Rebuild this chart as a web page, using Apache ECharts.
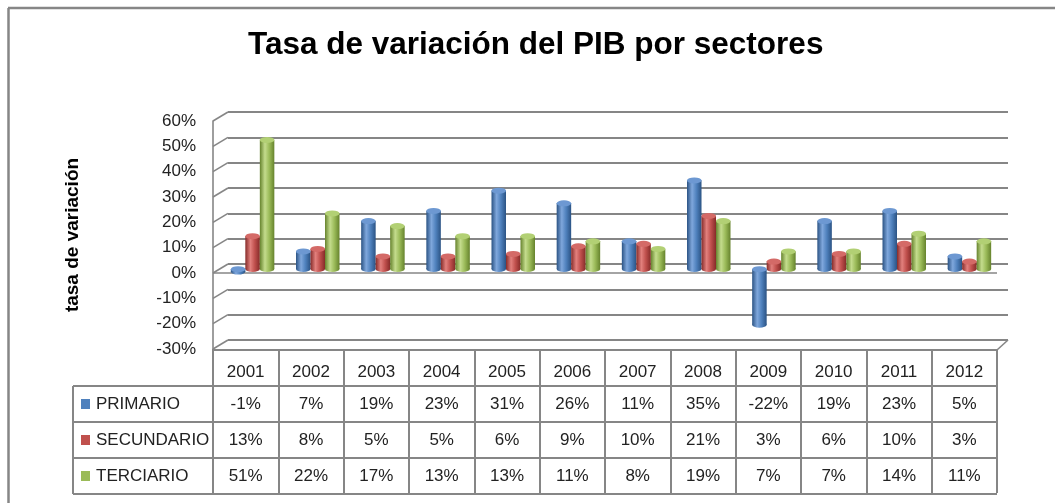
<!DOCTYPE html>
<html>
<head>
<meta charset="utf-8">
<script src="https://cdn.jsdelivr.net/npm/echarts@6/dist/echarts.min.js"></script>
<style>
  html, body { margin: 0; padding: 0; background: #fff; }
  #chart { width: 1055px; height: 503px; }
</style>
</head>
<body>
<div id="chart"></div>
<script>
// datos
const years = ['2001', '2002', '2003', '2004', '2005', '2006', '2007', '2008', '2009', '2010', '2011', '2012'];
const primario = [-1, 7, 19, 23, 31, 26, 11, 35, -22, 19, 23, 5];
const secundario = [13, 8, 5, 5, 6, 9, 10, 21, 3, 6, 10, 3];
const terciario = [51, 22, 17, 13, 13, 11, 8, 19, 7, 7, 14, 11];
const yMin = -30, yMax = 60, yStep = 10;

const sectores = [
  { name: 'PRIMARIO', data: primario, base: '#4f81bd', dark: '#2b5384', light: '#7fa7dc', top: '#6d98d2' },
  { name: 'SECUNDARIO', data: secundario, base: '#c0504d', dark: '#862b29', light: '#e2807d', top: '#d46a67' },
  { name: 'TERCIARIO', data: terciario, base: '#9bbb59', dark: '#66832d', light: '#c4dc8d', top: '#b2d074' }
];

// caja 3D: pared del fondo y plano frontal
const back = { x: 228, y: 112, w: 780, h: 228 };
const front = { x: 213, y: 121, w: 784, h: 228 };
const mid = { x: 220, y: 117, w: 782, h: 228 };
const rowH = 36;
const tableTop = front.y + front.h + 1;
const legendX = 73;
const gray = '#868686';
const font = 'Liberation Sans, Arial, sans-serif';
const barW = 14.5;

let chart = echarts.init(document.getElementById('chart'));

function cylinder(s) {
  return new echarts.graphic.LinearGradient(0, 0, 1, 0, [
    { offset: 0, color: s.dark },
    { offset: 0.35, color: s.light },
    { offset: 0.65, color: s.base },
    { offset: 1, color: s.dark }
  ]);
}

let series = [];
sectores.forEach(function (s) {
  series.push({
    name: s.name, type: 'bar', xAxisIndex: 2, yAxisIndex: 2,
    data: s.data, barWidth: barW, barGap: '0%',
    itemStyle: { color: cylinder(s) }, z: 3
  });
});
// base redondeada de cada cilindro (en su propio eje para no mezclar la colocacion)
sectores.forEach(function (s) {
  series.push({
    type: 'pictorialBar', xAxisIndex: 4, yAxisIndex: 3,
    data: s.data.map(v => v < 0 ? v : { value: 0, symbolOffset: [0, '-50%'] }),
    symbol: 'circle', symbolSize: [barW, 6], symbolPosition: 'end', symbolOffset: [0, '50%'],
    barWidth: barW, barGap: '0%', itemStyle: { color: cylinder(s) }, z: 2
  });
});
// tapa superior
sectores.forEach(function (s) {
  series.push({
    type: 'pictorialBar', xAxisIndex: 2, yAxisIndex: 2,
    data: s.data.map(v => Math.max(v, 0)),
    symbol: 'circle', symbolSize: [barW, 6], symbolPosition: 'end', symbolOffset: [0, '-50%'],
    barWidth: barW, barGap: '0%', itemStyle: { color: s.top, borderColor: s.dark, borderWidth: 0.5 }, z: 4
  });
});

// lineas decorativas de la caja y de la tabla
let graphics = [];
const line = (x1, y1, x2, y2, w) => ({
  type: 'line', silent: true, z: 1,
  shape: { x1: x1, y1: y1, x2: x2, y2: y2 },
  style: { stroke: gray, lineWidth: w || 2 }
});
// borde exterior
graphics.push(line(8, 8, 1055, 8, 2.5));
graphics.push(line(8.5, 8, 8.5, 503, 2.5));
// pared lateral izquierda
const nTicks = (yMax - yMin) / yStep;
for (let i = 0; i <= nTicks; i++) {
  let yb = back.y + i * back.h / nTicks;
  let yf = front.y + i * front.h / nTicks;
  graphics.push(line(front.x, yf, back.x, yb, 1.6));
}
// suelo en 0 y esquina inferior derecha
const zeroF = front.y + front.h * yMax / (yMax - yMin);
graphics.push(line(front.x, zeroF, front.x + front.w, zeroF, 1.6));
graphics.push(line(front.x + front.w, tableTop, back.x + back.w, back.y + back.h, 1.6));
// tabla de datos
graphics.push(line(front.x, tableTop, front.x + front.w, tableTop, 2));
for (let r = 1; r <= 4; r++) {
  graphics.push(line(legendX, tableTop + r * rowH, front.x + front.w, tableTop + r * rowH, 2));
}
graphics.push(line(legendX, tableTop + rowH, legendX, tableTop + 4 * rowH, 2));
sectores.forEach(function (s, i) {
  let cy = tableTop + rowH * (i + 1.5);
  graphics.push({ type: 'rect', shape: { x: legendX + 8, y: cy - 5, width: 9, height: 10 }, style: { fill: s.base } });
  graphics.push({
    type: 'text', x: legendX + 23, y: cy,
    style: { text: s.name, font: '17px ' + font, fill: '#222', verticalAlign: 'middle' }
  });
});
// titulo
graphics.push({
  type: 'text', x: 248, y: 45,
  style: { text: 'Tasa de variación del PIB por sectores', font: 'bold 31.5px ' + font, fill: '#000', verticalAlign: 'middle' }
});

// ejes de la tabla: una fila por eje x
const rowAxes = sectores.map(function (s, i) {
  return {
    type: 'category', gridIndex: 1, data: years, position: 'bottom',
    offset: rowH * (i + 1.5) + 1,
    axisLine: { show: false }, axisTick: { show: false },
    axisLabel: {
      interval: 0, margin: 0, verticalAlign: 'middle', color: '#222', fontSize: 17, fontFamily: font,
      formatter: (v, idx) => s.data[idx] + '%'
    }
  };
});

chart.setOption({
  animation: false,
  grid: [
    { left: back.x, top: back.y, width: back.w, height: back.h },
    { left: front.x, top: front.y, width: front.w, height: front.h },
    { left: mid.x, top: mid.y, width: mid.w, height: mid.h }
  ],
  xAxis: [
    { type: 'category', gridIndex: 0, data: years, show: false },
    {
      type: 'category', gridIndex: 1, data: years, position: 'bottom', offset: rowH / 2 + 5,
      axisLine: { show: false },
      axisTick: { show: false },
      axisLabel: { interval: 0, margin: 0, verticalAlign: 'middle', color: '#222', fontSize: 17, fontFamily: font }
    },
    { type: 'category', gridIndex: 2, data: years, show: false },
    {
      type: 'category', gridIndex: 1, data: years, position: 'bottom', offset: 0,
      axisLine: { show: false },
      axisTick: { show: true, interval: 0, length: rowH * 4, lineStyle: { color: gray, width: 2 } },
      axisLabel: { show: false }
    },
    { type: 'category', gridIndex: 2, data: years, show: false }
  ].concat(rowAxes),
  yAxis: [
    {
      type: 'value', gridIndex: 0, min: yMin, max: yMax, interval: yStep,
      axisLabel: { show: false }, axisLine: { show: false }, axisTick: { show: false },
      splitLine: { lineStyle: { color: gray, width: 1.8 } }
    },
    {
      type: 'value', gridIndex: 1, min: yMin, max: yMax, interval: yStep,
      name: 'tasa de variación', nameLocation: 'middle', nameGap: 131, nameRotate: 90,
      nameTextStyle: { fontSize: 19, fontWeight: 'bold', color: '#000', fontFamily: font },
      axisLine: { show: true, lineStyle: { color: gray, width: 1.6 } },
      axisTick: { show: false }, splitLine: { show: false },
      axisLabel: { margin: 17, color: '#222', fontSize: 17, fontFamily: font, formatter: '{value}%' }
    },
    { type: 'value', gridIndex: 2, min: yMin, max: yMax, interval: yStep, show: false, splitLine: { show: false } },
    { type: 'value', gridIndex: 2, min: yMin, max: yMax, interval: yStep, show: false, splitLine: { show: false } }
  ],
  graphic: graphics,
  series: series
});
</script>
</body>
</html>
